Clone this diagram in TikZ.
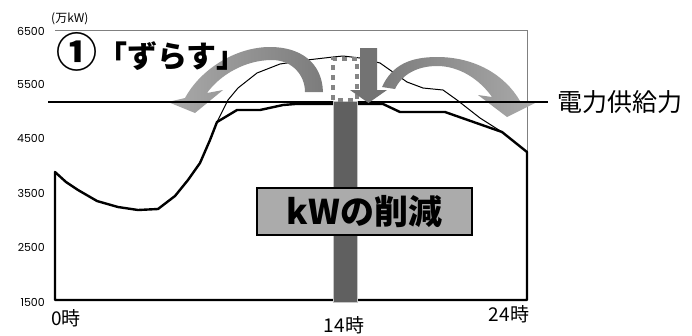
\documentclass[tikz,border=0pt]{standalone}
\usepackage{fontspec}
\setmainfont{Poppins}
\newfontfamily\jp{Noto Sans CJK JP}
\usetikzlibrary{positioning}

\definecolor{barraGris}{HTML}{606060}
\definecolor{flechaGris}{HTML}{737373}
\definecolor{puntosGris}{HTML}{858585}
\definecolor{curvaClara}{HTML}{AAAAAA}
\definecolor{curvaOscura}{HTML}{7C7C7C}
\definecolor{cajaGris}{HTML}{ABABAB}

\begin{document}
\begin{tikzpicture}[x=1pt,y=-1pt]
    \tikzset{TickLabel/.style = {anchor=east,inner sep=1pt,font=\fontsize{11}{11}\selectfont}}
    \tikzset{HourLabel/.style = {inner sep=0pt,font=\jp\fontsize{19}{19}\selectfont}}
    \tikzset{Marco/.style = {draw=gray,line width=0.9pt}}
    \tikzset{Demanda/.style = {draw=black,line width=2.4pt,line join=round}}
    \tikzset{DemandaOriginal/.style = {draw=black,line width=1pt,line join=round}}
    \tikzset{Suministro/.style = {draw=black,line width=2pt}}
    \tikzset{CajaReduccion/.style = {draw=black,line width=1.6pt,fill=cajaGris,minimum width=215pt,minimum height=47pt,inner sep=0pt,font=\jp\bfseries\fontsize{34}{34}\selectfont}}

    \useasboundingbox (0,0) rectangle (692,335);

    %Marco del grafico
    \draw[Marco] (55,30) -- (527,30) -- (527,300);

    %Etiquetas del eje
    \node[TickLabel] (tick6500) at (46,31) {6500};
    \node[TickLabel] (tick5500) at (46,84) {5500};
    \node[TickLabel] (tick4500) at (46,138) {4500};
    \node[TickLabel] (tick3500) at (46,193) {3500};
    \node[TickLabel] (tick2500) at (46,247) {2500};
    \node[TickLabel] (tick1500) at (46,302) {1500};
    \node[anchor=west,inner sep=0pt,font=\jp\fontsize{12}{12}\selectfont] (unidad) at (51,19) {(万kW)};

    \node[HourLabel] (hora0) at (66,318) {0\jp 時};
    \node[HourLabel] (hora14) at (344,325) {14時};
    \node[HourLabel] (hora24) at (509,314) {24時};

    %Demanda original (antes de ajustar)
    \draw[DemandaOriginal] (217,122) -- (228,100) -- (238,88) -- (257,73) -- (280,64)
        -- (307,60) -- (333,57) -- (343,56) -- (360,58) -- (380,63) -- (407,82)
        -- (423,88) -- (443,90) -- (457,100) -- (480,118) -- (502,132);

    %Demanda ajustada
    \draw[Demanda] (55,300) -- (55,172) -- (66,182) -- (78,190) -- (97,201) -- (118,207)
        -- (138,210) -- (158,209) -- (175,196) -- (188,180) -- (200,163) -- (210,140)
        -- (217,122) -- (237,110) -- (260,110) -- (283,105) -- (295,104) -- (383,104)
        -- (400,112) -- (445,112) -- (502,132) -- (527,152) -- (527,300) -- cycle;

    %Flechas curvas
    \shade[left color=curvaClara,right color=curvaOscura]
        (323,92) .. controls (322,62) and (300,47) .. (270,47)
        .. controls (235,47) and (200,70) .. (185,98)
        -- (168,102) -- (195,113) -- (223,90) -- (207,93)
        .. controls (220,75) and (245,60) .. (272,60)
        .. controls (292,60) and (305,75) .. (305,92) -- cycle;
    \shade[left color=curvaOscura,right color=curvaClara]
        (382,87) .. controls (392,65) and (410,57) .. (437,57)
        .. controls (475,57) and (505,75) .. (520,101)
        -- (535,103) -- (507,117) -- (478,95) -- (492,97)
        .. controls (480,80) and (460,66) .. (437,66)
        .. controls (418,66) and (402,74) .. (395,89) -- cycle;

    %Linea de suministro
    \node[anchor=west,inner sep=0pt,font=\jp\fontsize{25}{25}\selectfont] (suministro) at (557,102) {電力供給力};
    \coordinate (inicioSuministro) at (48,102);
    \draw[Suministro] (inicioSuministro) -- (suministro.west -| 548,0);

    %Barra de las 14
    \fill[barraGris,draw=gray!45,line width=0.8pt] (333,101) rectangle (357,302);
    \draw[puntosGris,line width=4pt,dash pattern=on 5pt off 5pt] (333,100) rectangle (357,59);
    \fill[flechaGris] (360,48) -- (377,48) -- (377,90) -- (387,90) -- (368.5,103)
        -- (350,90) -- (360,90) -- cycle;

    \node[CajaReduccion] (reduccion) at (364.5,211.5) {kWの削減};

    \node[anchor=west,inner sep=0pt,font=\jp\bfseries\fontsize{30}{30}\selectfont] (titulo) at (56,52) {{\fontsize{41}{41}\selectfont ①}「ずらす」};

\end{tikzpicture}
\end{document}
